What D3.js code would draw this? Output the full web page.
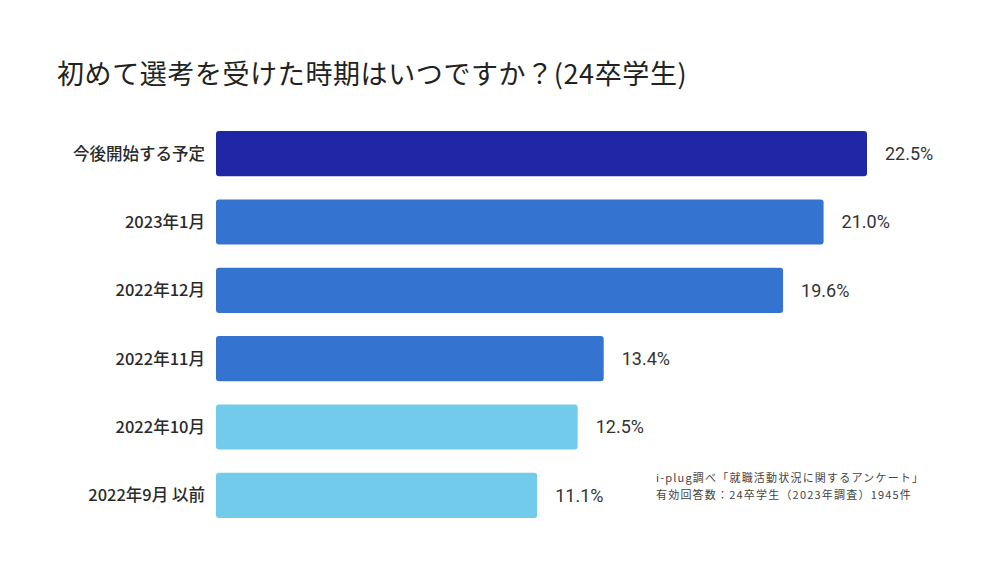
<!DOCTYPE html>
<html>
<head>
<meta charset="utf-8">
<script src="https://d3js.org/d3.v7.min.js"></script>
<style>
  body { margin: 0; background: #fff; }
  svg { display: block; font-family: "Noto Sans CJK JP", "Noto Sans", sans-serif; }
</style>
</head>
<body>
<div id="chart"></div>
<script>
// data
var categories = ["今後開始する予定", "2023年1月", "2022年12月", "2022年11月", "2022年10月", "2022年9月 以前"];
var values = [22.5, 21.0, 19.6, 13.4, 12.5, 11.1];
var barColors = ["#1f27a6", "#3474d0", "#3474d0", "#3474d0", "#72cbea", "#72cbea"];
var title = "初めて選考を受けた時期はいつですか？(24卒学生)";
var notes = ["i-plug調べ「就職活動状況に関するアンケート」", "有効回答数：24卒学生（2023年調査）1945件"];

var width = 1000, height = 574;

var svg = d3.select("#chart").append("svg")
  .attr("width", width)
  .attr("height", height);

// title
svg.append("text")
  .attr("x", 57)
  .attr("y", 84)
  .attr("font-size", 27)
  .attr("fill", "#222")
  .attr("letter-spacing", 0.6)
  .text(title);

var x = d3.scaleLinear()
  .domain([0, 22.5])
  .range([216, 867]);

var y = d3.scaleBand()
  .domain(categories)
  .range([119.5, 529.5])
  .paddingInner(0.34)
  .paddingOuter(0.17);

var rows = categories.map(function (c, i) { return { cat: c, val: values[i], color: barColors[i] }; });

svg.selectAll("rect.bar")
  .data(rows)
  .enter()
  .append("rect")
    .attr("class", "bar")
    .attr("x", x(0))
    .attr("y", function (d) { return y(d.cat); })
    .attr("width", function (d) { return x(d.val) - x(0); })
    .attr("height", y.bandwidth())
    .attr("rx", 3)
    .attr("fill", function (d) { return d.color; });

// category labels
svg.selectAll("text.cat")
  .data(rows)
  .enter()
  .append("text")
    .attr("class", "cat")
    .attr("x", 205)
    .attr("y", function (d) { return y(d.cat) + y.bandwidth() / 2; })
    .attr("dy", "0.36em")
    .attr("text-anchor", "end")
    .attr("font-size", 16.5)
    .attr("font-weight", 500)
    .attr("fill", "#2a2a2a")
    .text(function (d) { return d.cat; });

// value labels
svg.selectAll("text.val")
  .data(rows)
  .enter()
  .append("text")
    .attr("class", "val")
    .attr("x", function (d) { return x(d.val) + 18; })
    .attr("y", function (d) { return y(d.cat) + y.bandwidth() / 2; })
    .attr("dy", "0.36em")
    .attr("font-family", "Roboto, sans-serif")
    .attr("font-size", 18)
    .attr("fill", "#333")
    .text(function (d) { return d.val.toFixed(1) + "%"; });

// source note
svg.selectAll("text.note")
  .data(notes)
  .enter()
  .append("text")
    .attr("class", "note")
    .attr("x", 656)
    .attr("y", function (d, i) { return 482 + i * 16.5; })
    .attr("font-size", 11)
    .attr("letter-spacing", 1.2)
    .attr("fill", "#444")
    .text(function (d) { return d; });
</script>
</body>
</html>
